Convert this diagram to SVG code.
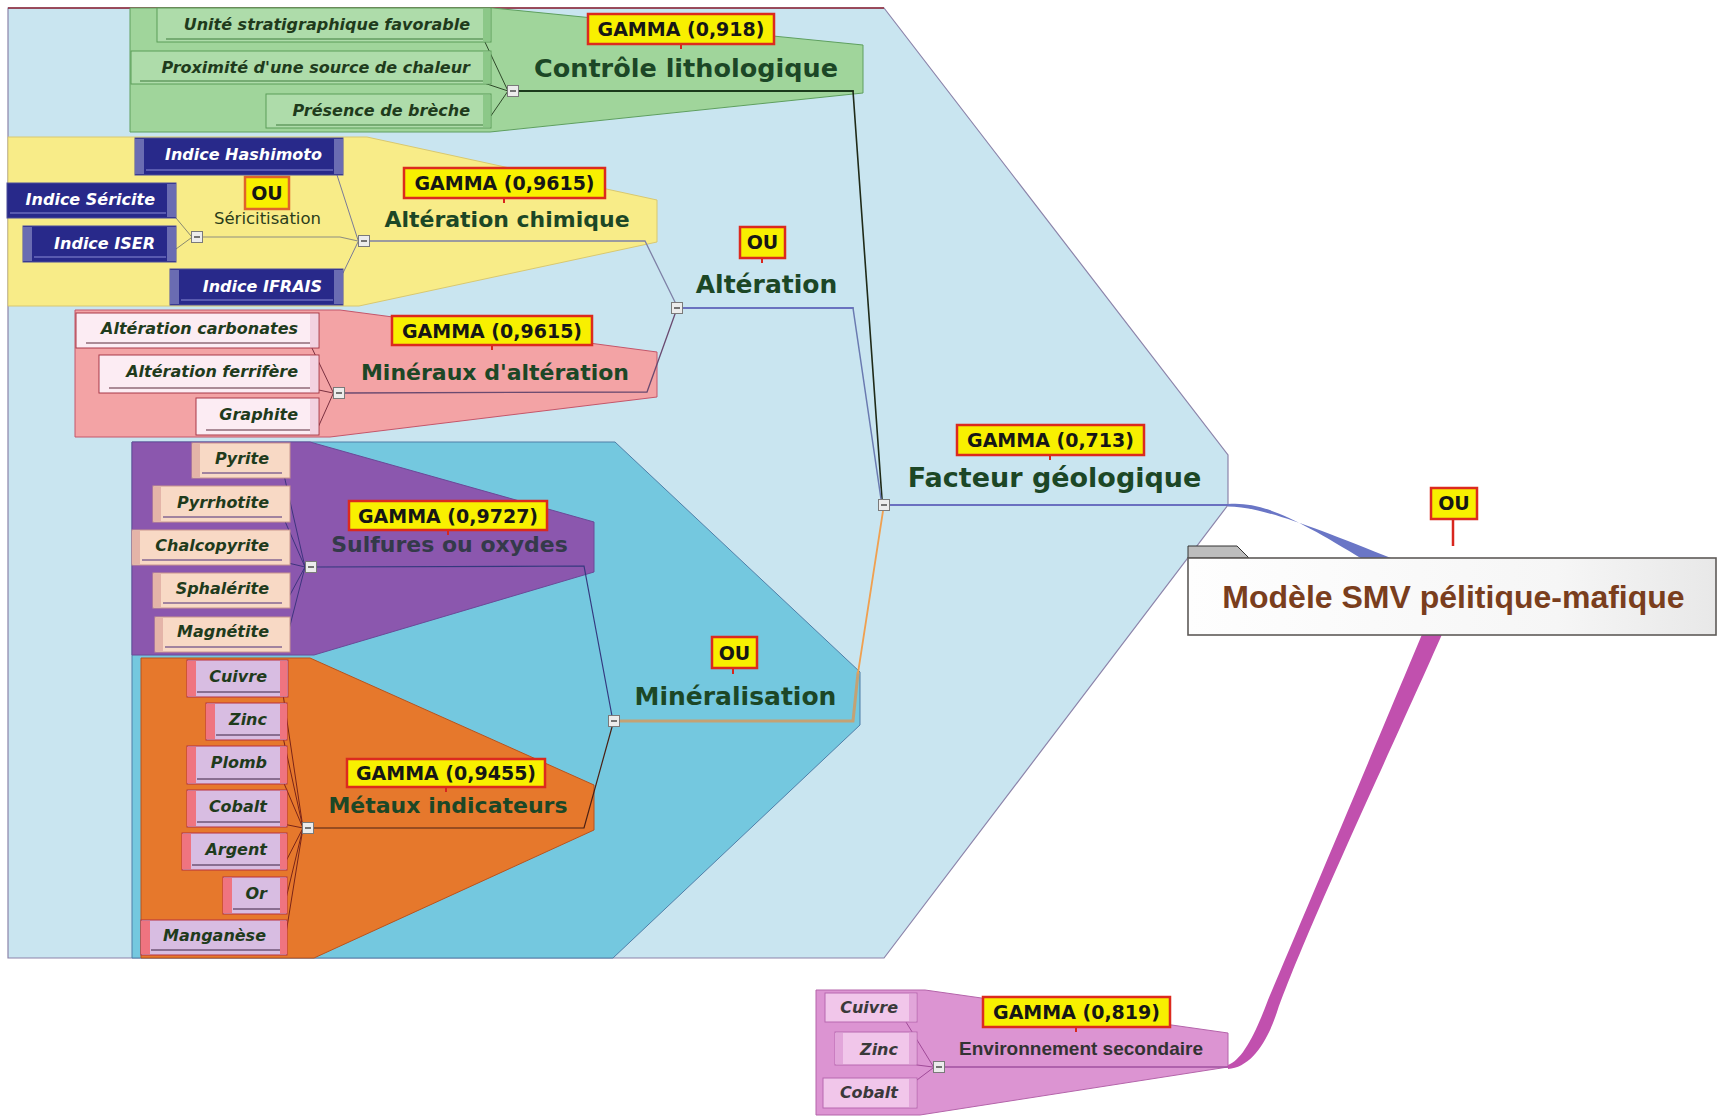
<svg xmlns="http://www.w3.org/2000/svg" width="1717" height="1118" viewBox="0 0 1717 1118">
<defs>
<style>
.tt{font-family:"DejaVu Sans",Verdana,sans-serif;font-weight:bold;fill:#1c4726;text-anchor:middle}
.ct{font-family:"DejaVu Sans",Verdana,sans-serif;font-weight:bold;font-style:italic;font-size:16px;fill:#1f3b1c;text-anchor:end}
.cw{fill:#ffffff}
.ce{fill:#3a3a3a}
.gb{fill:#f8f000;stroke:#dc2a1e;stroke-width:2.5}
.gt{font-family:"DejaVu Sans",Verdana,sans-serif;font-weight:bold;font-size:19px;fill:#161616;text-anchor:middle}
.stem{stroke:#d8261e;stroke-width:2}
.c{fill:none;stroke-linecap:round}
.bg{fill:#aedcaa;stroke:#5b9e58;stroke-width:1}
.sg{fill:#8cc888}
.ug{stroke:#3f7d3c;stroke-width:1.2}
.bb{fill:#28298a;stroke:#4a4c9a;stroke-width:1}
.sb{fill:#6a6cb2}
.ub{stroke:#8a8cd6;stroke-width:1}
.bp{fill:#fcecf3;stroke:#a83848;stroke-width:1}
.sp{fill:#f3d2e0}
.up{stroke:#5a2a3a;stroke-width:1}
.bo{fill:#f8d9c5;stroke:#c9968e;stroke-width:1}
.so{fill:#e4b4a8}
.uo{stroke:#4a2f7a;stroke-width:1.2}
.bl{fill:#d8bde2;stroke:#b8303c;stroke-width:1}
.sl{fill:#ef7480}
.ul{stroke:#3a2040;stroke-width:1}
.be{fill:#f1c6ea;stroke:#b868b0;stroke-width:1}
.se{fill:#e2a6da}
</style>
<g id="btn"><rect x="-5.5" y="-5.5" width="11" height="11" fill="#ececec" stroke="#7a7a7a" stroke-width="1"/><line x1="-3" y1="0" x2="3" y2="0" stroke="#333" stroke-width="1.3"/></g>
<linearGradient id="gm" x1="0" y1="0" x2="1" y2="0"><stop offset="0" stop-color="#fefefe"/><stop offset="0.7" stop-color="#f6f6f6"/><stop offset="1" stop-color="#e8e8e8"/></linearGradient>
</defs>
<rect x="0" y="0" width="1717" height="1118" fill="#ffffff"/>

<g id="boundaries">
<polygon points="8,8 884,8 1228,455 1228,505 884,958 8,958" fill="#c9e5f0" stroke="#8c84aa" stroke-width="1.2"/>
<line x1="8" y1="8" x2="884" y2="8" stroke="#8e2434" stroke-width="1.5"/>
<polygon points="130,8 493,8 863,45 863,93 490,132 130,132" fill="#a0d59b" stroke="#5e9f5e" stroke-width="1"/>
<polygon points="8,137 367,137 657,200 657,242 359,306 8,306" fill="#f8ec88" stroke="#d8c870" stroke-width="1"/>
<polygon points="75,310 340,310 657,352 657,397 330,437 75,437" fill="#f3a3a5" stroke="#c4566a" stroke-width="1"/>
<polygon points="132,442 615,442 860,672 860,725 613,958 132,958" fill="#74c8df" stroke="#4f7fa8" stroke-width="1"/>
<polygon points="132,442 310,442 594,522 594,572 314,655 132,655" fill="#8b57ae" stroke="#6a4a98" stroke-width="1"/>
<polygon points="141,658 310,658 594,785 594,830 314,958 141,958" fill="#e6782c" stroke="#b8521c" stroke-width="1"/>
<polygon points="816,990 925,990 1228,1033 1228,1067 920,1115 816,1115" fill="#dc94d2" stroke="#b464aa" stroke-width="1"/>
</g>

<g id="connectors">
<path class="c" d="M484,40 L508,91 M484,83 L508,91 M484,126 L508,91" stroke="#2f4a2a" stroke-width="1"/>
<path class="c" d="M519,91 L853,91" stroke="#1b3a1b" stroke-width="2.2"/>
<path class="c" d="M853,91 L882,499" stroke="#1f2a18" stroke-width="1.6"/>
<path class="c" d="M176,218 L191,236 M176,249 L191,238" stroke="#8a8a70" stroke-width="1"/>
<path class="c" d="M203,237 L340,237 L358,241" stroke="#8e8e80" stroke-width="1.2"/>
<path class="c" d="M337,175 L358,240 M343,273 L358,242" stroke="#7a7a98" stroke-width="1"/>
<path class="c" d="M370,241 L645,241 L675,302" stroke="#7e80a6" stroke-width="1.3"/>
<path class="c" d="M310,344 L333,392 M314,389 L333,393 M316,432 L333,394" stroke="#7a3040" stroke-width="1"/>
<path class="c" d="M345,393 L647,392 L675,314" stroke="#6a4a70" stroke-width="1.3"/>
<path class="c" d="M683,308 L853,308" stroke="#6a72bf" stroke-width="2"/>
<path class="c" d="M853,308 L881,499" stroke="#6a7ab0" stroke-width="1.5"/>
<path class="c" d="M284,475 L305,567 M284,519 L305,567 M284,562 L305,567 M284,606 L305,567 M284,649 L305,567" stroke="#3e347e" stroke-width="1"/>
<path class="c" d="M317,567 L584,566 L612,716" stroke="#34387e" stroke-width="1.2"/>
<path class="c" d="M283,694 L303,828 M283,737 L303,828 M283,781 L303,828 M283,824 L303,828 M283,867 L303,828 M283,911 L303,828 M283,952 L303,828" stroke="#7a2418" stroke-width="1"/>
<path class="c" d="M314,828 L584,828 L612,727" stroke="#4a2014" stroke-width="1.2"/>
<path class="c" d="M620,721 L853,721 L858,673" stroke="#c4a274" stroke-width="3"/>
<path class="c" d="M858,673 L883,511" stroke="#f0a050" stroke-width="1.8"/>
<path class="c" d="M890,505 L1228,505" stroke="#6a70c0" stroke-width="2"/>
<path d="M1228,504 C1262,501 1297,519 1364,560 L1396,560 C1305,524 1262,507 1228,506.5 Z" fill="#6a76c6"/>
<path class="c" d="M906,1022 L933,1066 M917,1065 L933,1067 M917,1080 L933,1068" stroke="#a04a98" stroke-width="1"/>
<path class="c" d="M945,1067 L1228,1067" stroke="#a050a0" stroke-width="1.5"/>
<path d="M1423,632 C1382,730 1302,920 1268,1000 C1255,1035 1242,1060 1228,1065 L1228,1069 C1250,1067 1266,1045 1277,1012 C1308,925 1398,735 1443,632 Z" fill="#c150ae"/>
</g>

<g id="toggles">
<use href="#btn" transform="translate(513,91)"/>
<use href="#btn" transform="translate(197,237)"/>
<use href="#btn" transform="translate(364,241)"/>
<use href="#btn" transform="translate(339,393)"/>
<use href="#btn" transform="translate(677,308)"/>
<use href="#btn" transform="translate(311,567)"/>
<use href="#btn" transform="translate(308,828)"/>
<use href="#btn" transform="translate(614,721)"/>
<use href="#btn" transform="translate(884,505)"/>
<use href="#btn" transform="translate(939,1067)"/>
</g>

<g id="n-controle">
<rect class="gb" x="588" y="14" width="186" height="30"/>
<line class="stem" x1="681" y1="45" x2="681" y2="49"/>
<text class="gt" x="681" y="36">GAMMA (0,918)</text>
<text class="tt" x="686" y="77" font-size="25.5">Contrôle lithologique</text>
</g>
<g id="n-unite"><rect class="bg" x="157" y="8" width="334" height="34"/><rect class="sg" x="483" y="9" width="7" height="32"/><line class="ug" x1="166" y1="39" x2="483" y2="39"/><text class="ct" x="470" y="30">Unité stratigraphique favorable</text></g>
<g id="n-proximite"><rect class="bg" x="131" y="51" width="360" height="33"/><rect class="sg" x="483" y="52" width="7" height="31"/><line class="ug" x1="140" y1="81" x2="483" y2="81"/><text class="ct" x="470" y="73">Proximité d'une source de chaleur</text></g>
<g id="n-breche"><rect class="bg" x="266" y="94" width="225" height="34"/><rect class="sg" x="483" y="95" width="7" height="32"/><line class="ug" x1="276" y1="125" x2="483" y2="125"/><text class="ct" x="470" y="116">Présence de brèche</text></g>

<g id="n-chimique">
<rect class="gb" x="404" y="168" width="201" height="30"/>
<line class="stem" x1="504" y1="199" x2="504" y2="203"/>
<text class="gt" x="504.5" y="190">GAMMA (0,9615)</text>
<text class="tt" x="507" y="227" font-size="22">Altération chimique</text>
</g>
<g id="n-sericitisation">
<rect x="245" y="177" width="44" height="32" fill="#f8f000" stroke="#e0642a" stroke-width="2.5"/>
<text class="gt" x="267" y="200">OU</text>
<text x="267.5" y="224" font-family="DejaVu Sans, Verdana, sans-serif" font-size="16.5" fill="#2b3d1a" text-anchor="middle">Séricitisation</text>
</g>
<g id="n-hashimoto"><rect class="bb" x="135" y="138" width="208" height="37"/><rect class="sb" x="135" y="139" width="9" height="35"/><rect class="sb" x="334" y="139" width="9" height="35"/><line class="ub" x1="146" y1="170" x2="333" y2="170"/><text class="ct cw" x="322" y="160">Indice Hashimoto</text></g>
<g id="n-sericite"><rect class="bb" x="7" y="183" width="169" height="35"/><rect class="sb" x="167" y="184" width="9" height="33"/><line class="ub" x1="10" y1="213" x2="166" y2="213"/><text class="ct cw" x="155" y="205">Indice Séricite</text></g>
<g id="n-iser"><rect class="bb" x="23" y="226" width="153" height="36"/><rect class="sb" x="23" y="227" width="9" height="34"/><rect class="sb" x="167" y="227" width="9" height="34"/><line class="ub" x1="34" y1="257" x2="166" y2="257"/><text class="ct cw" x="155" y="249">Indice ISER</text></g>
<g id="n-ifrais"><rect class="bb" x="170" y="269" width="173" height="36"/><rect class="sb" x="170" y="270" width="9" height="34"/><rect class="sb" x="334" y="270" width="9" height="34"/><line class="ub" x1="181" y1="300" x2="333" y2="300"/><text class="ct cw" x="322" y="292">Indice IFRAIS</text></g>

<g id="n-mineraux">
<rect class="gb" x="392" y="316" width="200" height="29"/>
<line class="stem" x1="492" y1="346" x2="492" y2="350"/>
<text class="gt" x="492" y="338">GAMMA (0,9615)</text>
<text class="tt" x="495" y="380" font-size="22">Minéraux d'altération</text>
</g>
<g id="n-carbonates"><rect class="bp" x="76" y="313" width="243" height="35"/><rect class="sp" x="310" y="314" width="8" height="33"/><line class="up" x1="86" y1="343" x2="310" y2="343"/><text class="ct" x="298" y="334">Altération carbonates</text></g>
<g id="n-ferrifere"><rect class="bp" x="99" y="355" width="220" height="38"/><rect class="sp" x="310" y="356" width="8" height="36"/><line class="up" x1="109" y1="388" x2="310" y2="388"/><text class="ct" x="298" y="377">Altération ferrifère</text></g>
<g id="n-graphite"><rect class="bp" x="196" y="398" width="123" height="37"/><rect class="sp" x="310" y="399" width="8" height="35"/><line class="up" x1="206" y1="430" x2="310" y2="430"/><text class="ct" x="298" y="420">Graphite</text></g>

<g id="n-alteration">
<rect class="gb" x="740" y="227" width="45" height="31"/>
<line class="stem" x1="762" y1="259" x2="762" y2="263"/>
<text class="gt" x="762.5" y="249">OU</text>
<text class="tt" x="766.5" y="293" font-size="25">Altération</text>
</g>

<g id="n-sulfures">
<rect class="gb" x="349" y="501" width="198" height="29"/>
<line class="stem" x1="448" y1="531" x2="448" y2="535"/>
<text class="gt" x="448" y="523">GAMMA (0,9727)</text>
<text class="tt" x="449.5" y="552" font-size="22" style="fill:#343a4a">Sulfures ou oxydes</text>
</g>
<g id="n-pyrite"><rect class="bo" x="192" y="443" width="98" height="35"/><rect class="so" x="192" y="444" width="8" height="33"/><line class="uo" x1="202" y1="473" x2="282" y2="473"/><text class="ct" x="269" y="464">Pyrite</text></g>
<g id="n-pyrrhotite"><rect class="bo" x="153" y="486" width="137" height="36"/><rect class="so" x="153" y="487" width="8" height="34"/><line class="uo" x1="163" y1="517" x2="282" y2="517"/><text class="ct" x="269" y="508">Pyrrhotite</text></g>
<g id="n-chalcopyrite"><rect class="bo" x="132" y="530" width="158" height="35"/><rect class="so" x="132" y="531" width="8" height="33"/><line class="uo" x1="142" y1="560" x2="282" y2="560"/><text class="ct" x="269" y="551">Chalcopyrite</text></g>
<g id="n-sphalerite"><rect class="bo" x="153" y="573" width="137" height="35"/><rect class="so" x="153" y="574" width="8" height="33"/><line class="uo" x1="163" y1="603" x2="282" y2="603"/><text class="ct" x="269" y="594">Sphalérite</text></g>
<g id="n-magnetite"><rect class="bo" x="155" y="617" width="135" height="35"/><rect class="so" x="155" y="618" width="8" height="33"/><line class="uo" x1="165" y1="647" x2="282" y2="647"/><text class="ct" x="269" y="637">Magnétite</text></g>

<g id="n-metaux">
<rect class="gb" x="347" y="759" width="198" height="28"/>
<line class="stem" x1="446" y1="788" x2="446" y2="792"/>
<text class="gt" x="446" y="780">GAMMA (0,9455)</text>
<text class="tt" x="448" y="813" font-size="22">Métaux indicateurs</text>
</g>
<g id="n-cuivre"><rect class="bl" x="187" y="660" width="101" height="37"/><rect class="sl" x="187" y="661" width="9" height="35"/><rect class="sl" x="280" y="661" width="7" height="35"/><line class="ul" x1="197" y1="692" x2="280" y2="692"/><text class="ct" x="267" y="682">Cuivre</text></g>
<g id="n-zinc"><rect class="bl" x="206" y="703" width="81" height="37"/><rect class="sl" x="206" y="704" width="9" height="35"/><rect class="sl" x="280" y="704" width="7" height="35"/><line class="ul" x1="216" y1="735" x2="280" y2="735"/><text class="ct" x="267" y="725">Zinc</text></g>
<g id="n-plomb"><rect class="bl" x="187" y="746" width="100" height="38"/><rect class="sl" x="187" y="747" width="9" height="36"/><rect class="sl" x="280" y="747" width="7" height="36"/><line class="ul" x1="197" y1="779" x2="280" y2="779"/><text class="ct" x="267" y="768">Plomb</text></g>
<g id="n-cobalt"><rect class="bl" x="187" y="790" width="100" height="37"/><rect class="sl" x="187" y="791" width="9" height="35"/><rect class="sl" x="280" y="791" width="7" height="35"/><line class="ul" x1="197" y1="822" x2="280" y2="822"/><text class="ct" x="267" y="812">Cobalt</text></g>
<g id="n-argent"><rect class="bl" x="182" y="833" width="105" height="37"/><rect class="sl" x="182" y="834" width="9" height="35"/><rect class="sl" x="280" y="834" width="7" height="35"/><line class="ul" x1="192" y1="865" x2="280" y2="865"/><text class="ct" x="267" y="855">Argent</text></g>
<g id="n-or"><rect class="bl" x="223" y="877" width="64" height="37"/><rect class="sl" x="223" y="878" width="9" height="35"/><rect class="sl" x="280" y="878" width="7" height="35"/><line class="ul" x1="233" y1="909" x2="280" y2="909"/><text class="ct" x="267" y="899">Or</text></g>
<g id="n-manganese"><rect class="bl" x="141" y="920" width="146" height="35"/><rect class="sl" x="141" y="921" width="9" height="33"/><rect class="sl" x="280" y="921" width="7" height="33"/><line class="ul" x1="151" y1="950" x2="280" y2="950"/><text class="ct" x="266" y="941">Manganèse</text></g>

<g id="n-mineralisation">
<rect class="gb" x="712" y="637" width="45" height="31"/>
<line class="stem" x1="733" y1="669" x2="733" y2="674"/>
<text class="gt" x="734.5" y="660">OU</text>
<text class="tt" x="735.5" y="705" font-size="25">Minéralisation</text>
</g>

<g id="n-facteur">
<rect class="gb" x="957" y="425" width="187" height="30"/>
<line class="stem" x1="1050" y1="456" x2="1050" y2="460"/>
<text class="gt" x="1050.5" y="447">GAMMA (0,713)</text>
<text class="tt" x="1054.5" y="487" font-size="27">Facteur géologique</text>
</g>

<g id="n-modele">
<line x1="1453" y1="519" x2="1453" y2="546" stroke="#d8261e" stroke-width="2.5"/>
<rect class="gb" x="1431" y="488" width="46" height="31"/>
<text class="gt" x="1454" y="510">OU</text>
<polygon points="1188,558 1188,546 1237,546 1249,558" fill="#bdbdbd" stroke="#333" stroke-width="1"/>
<rect x="1188" y="558" width="528" height="77" fill="url(#gm)" stroke="#5e5a58" stroke-width="1.6"/>
<text x="1453.5" y="608" font-family="Liberation Sans, Arial, sans-serif" font-weight="bold" font-size="32" fill="#7a3e1d" text-anchor="middle">Modèle SMV pélitique-mafique</text>
</g>

<g id="n-env">
<rect class="gb" x="983" y="997" width="187" height="30"/>
<line class="stem" x1="1076" y1="1028" x2="1076" y2="1032"/>
<text class="gt" x="1076.5" y="1019">GAMMA (0,819)</text>
<text x="1081" y="1055" font-family="Liberation Sans, Arial, sans-serif" font-weight="bold" font-size="19" fill="#333333" text-anchor="middle">Environnement secondaire</text>
</g>
<g id="n-env-cuivre"><rect class="be" x="825" y="993" width="92" height="29"/><rect class="se" x="909" y="994" width="7" height="27"/><text class="ct ce" x="898" y="1013">Cuivre</text></g>
<g id="n-env-zinc"><rect class="be" x="835" y="1032" width="82" height="33"/><rect class="se" x="835" y="1033" width="8" height="31"/><rect class="se" x="909" y="1033" width="7" height="31"/><text class="ct ce" x="898" y="1055">Zinc</text></g>
<g id="n-env-cobalt"><rect class="be" x="823" y="1078" width="94" height="30"/><rect class="se" x="909" y="1079" width="7" height="28"/><text class="ct ce" x="898" y="1098">Cobalt</text></g>
</svg>
